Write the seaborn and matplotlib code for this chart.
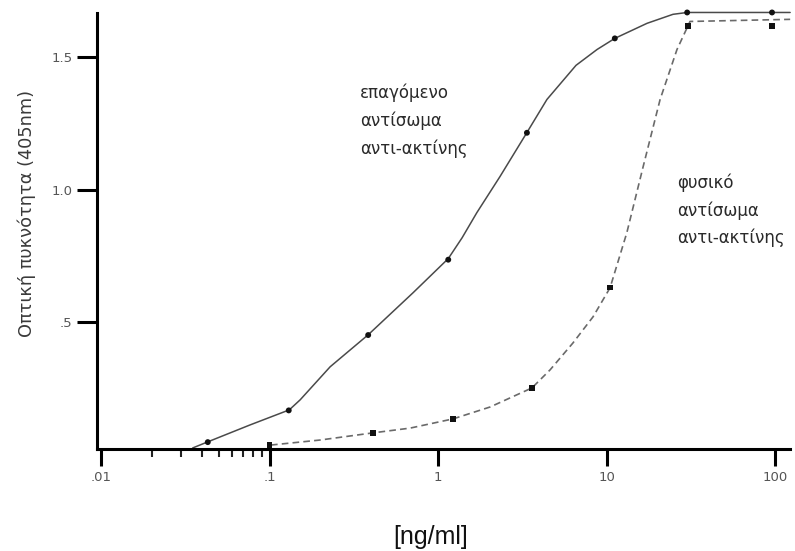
import matplotlib
matplotlib.use("Agg")
import matplotlib.pyplot as plt
import seaborn as sns
import pandas as pd
from matplotlib.ticker import FixedLocator, NullFormatter

# values (x in ng/ml, y = optical density at 405nm)
# induced anti-actin antibody: measured points
induced_x = [0.043, 0.13, 0.385, 1.15, 3.37, 11.2, 30.1, 96]
induced_y = [0.045, 0.165, 0.45, 0.735, 1.215, 1.572, 1.67, 1.67]
# traced hand-drawn curve through them
induced_curve_x = [0.035, 0.0426, 0.0766, 0.131, 0.152, 0.229, 0.385, 0.711, 1.15, 1.39,
                   1.70, 2.33, 3.37, 4.43, 6.59, 8.79, 11.2, 17.4, 24.8, 30.1, 123]
induced_curve_y = [0.023, 0.045, 0.110, 0.167, 0.205, 0.330, 0.451, 0.610, 0.739, 0.818,
                   0.913, 1.049, 1.216, 1.341, 1.470, 1.530, 1.572, 1.629, 1.663, 1.670, 1.670]

# natural anti-actin antibody
natural_x = [0.10, 0.41, 1.23, 3.6, 10.5, 30.5, 96]
natural_y = [0.034, 0.08, 0.133, 0.25, 0.63, 1.62, 1.62]
natural_curve_x = [0.102, 0.200, 0.411, 0.683, 1.23, 2.04, 3.61, 4.62, 6.32, 8.32, 10.5,
                   13.2, 16.5, 20.8, 26.2, 31.3, 123]
natural_curve_y = [0.034, 0.053, 0.080, 0.098, 0.133, 0.178, 0.250, 0.318, 0.420, 0.519,
                   0.629, 0.837, 1.087, 1.341, 1.530, 1.636, 1.644]

x_ticks = [0.01, 0.1, 1, 10, 100]
x_tick_labels = [".01", ".1", "1", "10", "100"]
x_minor_ticks = [0.02, 0.03, 0.04, 0.05, 0.06, 0.07, 0.08, 0.09]
y_ticks = [0.5, 1.0, 1.5]
y_tick_labels = [".5", "1.0", "1.5"]

label_induced = "επαγόμενο\nαντίσωμα\nαντι-ακτίνης"
label_natural = "φυσικό\nαντίσωμα\nαντι-ακτίνης"

sns.set_style("ticks")
plt.rcParams["font.family"] = ["DejaVu Sans"]

fig = plt.figure(figsize=(7.95, 5.51), dpi=100)
ax = fig.add_axes([97 / 795, 102 / 551, 693 / 795, 436 / 551])

ind_curve = pd.DataFrame({"x": induced_curve_x, "y": induced_curve_y})
nat_curve = pd.DataFrame({"x": natural_curve_x, "y": natural_curve_y})

sns.lineplot(data=ind_curve, x="x", y="y", ax=ax, color="#4a4a4a", linewidth=1.1,
             sort=False, estimator=None, clip_on=False)
sns.lineplot(data=nat_curve, x="x", y="y", ax=ax, color="#6a6a6a", linewidth=1.2,
             linestyle=(0, (4, 2.5)), sort=False, estimator=None, clip_on=False)

sns.scatterplot(x=induced_x, y=induced_y, ax=ax, color="#111111", marker="o", s=18,
                edgecolor="none", clip_on=False, zorder=5)
sns.scatterplot(x=natural_x, y=natural_y, ax=ax, color="#111111", marker="s", s=18,
                edgecolor="none", clip_on=False, zorder=5)

ax.set_xscale("log")
ax.set_xlim(10 ** -2.024, 10 ** 2.089)
ax.set_ylim(0.019, 1.668)

ax.xaxis.set_major_locator(FixedLocator(x_ticks))
ax.set_xticklabels(x_tick_labels)
ax.xaxis.set_minor_locator(FixedLocator(x_minor_ticks))
ax.xaxis.set_minor_formatter(NullFormatter())
ax.set_yticks(y_ticks)
ax.set_yticklabels(y_tick_labels)
ax.yaxis.set_minor_locator(FixedLocator([]))

ax.tick_params(axis="both", which="major", width=2.2, color="black",
               labelsize=9.5, labelcolor="#555555")
ax.tick_params(axis="y", which="major", length=14.5, pad=3)
ax.tick_params(axis="x", which="major", length=12, pad=4)
ax.tick_params(axis="x", which="minor", length=5.5, width=1.5, color="#222222")

sns.despine(ax=ax)
for side in ["left", "bottom"]:
    ax.spines[side].set_linewidth(2.2)
    ax.spines[side].set_color("black")

ax.set_xlabel("")
ax.set_ylabel("Οπτική πυκνότητα (405nm)", fontsize=12.8, color="#3a3a3a")
ax.yaxis.set_label_coords(-0.088, 0.541)

fig.text(431 / 795, 14 / 551, "[ng/ml]", ha="center", va="center",
         fontsize=18, family="Liberation Sans", color="#111111")

ax.text(0.344, 1.40, label_induced, ha="left", va="top", fontsize=12,
        color="#2a2a2a", linespacing=1.64)
ax.text(26.2, 1.062, label_natural, ha="left", va="top", fontsize=12,
        color="#2a2a2a", linespacing=1.64)

fig.savefig("out.png", dpi=100)
plt.close(fig)
